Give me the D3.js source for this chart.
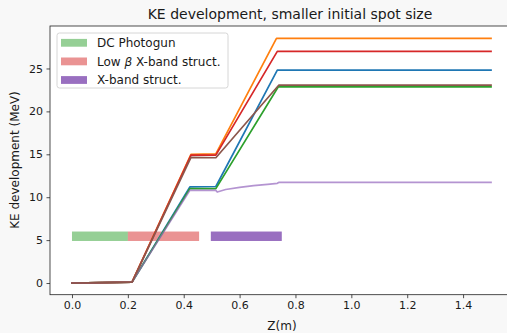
<!DOCTYPE html>
<html>
<head>
<meta charset="utf-8">
<script src="https://cdn.jsdelivr.net/npm/d3@7"></script>
<style>
  html, body { margin: 0; padding: 0; background: #f8f8f8; }
  svg { display: block; font-family: "DejaVu Sans", sans-serif; }
</style>
</head>
<body>
<svg id="chart" width="507" height="333"></svg>
<script>
// Longitudinal position along the beamline (m) and kinetic energy (MeV) per tracked run
const zBlue   = [0, 0.215, 0.422, 0.515, 0.735, 1.5];
const keBlue  = [0, 0.1, 11.2, 11.25, 24.8, 24.8];
const zOrange = [0, 0.215, 0.426, 0.515, 0.732, 1.5];
const keOrange= [0, 0.1, 15.0, 15.05, 28.5, 28.5];
const zGreen  = [0, 0.215, 0.422, 0.515, 0.738, 1.5];
const keGreen = [0, 0.1, 11.0, 11.0, 22.85, 22.85];
const zRed    = [0, 0.215, 0.426, 0.515, 0.735, 1.5];
const keRed   = [0, 0.1, 14.9, 14.9, 27.0, 27.0];
const zPurple = [0, 0.215, 0.422, 0.515, 0.52, 0.55, 0.6, 0.65, 0.7, 0.735, 0.74, 1.5];
const kePurple= [0, 0.1, 10.8, 10.8, 10.6, 10.9, 11.15, 11.35, 11.5, 11.62, 11.72, 11.72];
const zBrown  = [0, 0.215, 0.426, 0.515, 0.74, 1.5];
const keBrown = [0, 0.1, 14.65, 14.6, 23.05, 23.05];

// Accelerating sections: label parts (plain, italic symbol, plain), start z, end z
const sectionNames = [["DC Photogun", "", ""], ["Low ", "\u03b2", " X-band struct."], ["X-band struct.", "", ""]];
const sectionStart = [0.0, 0.2, 0.497];
const sectionEnd   = [0.2, 0.455, 0.751];
const sectionLevel = [4.9, 6.0]; // vertical extent of the section bars (MeV)

const xTicks = [0.0, 0.2, 0.4, 0.6, 0.8, 1.0, 1.2, 1.4];
const yTicks = [0, 5, 10, 15, 20, 25];

const series = [
  { z: zBlue,   ke: keBlue,   color: "#1f77b4", opacity: 1 },
  { z: zOrange, ke: keOrange, color: "#ff7f0e", opacity: 1 },
  { z: zGreen,  ke: keGreen,  color: "#2ca02c", opacity: 1 },
  { z: zRed,    ke: keRed,    color: "#d62728", opacity: 1 },
  { z: zPurple, ke: kePurple, color: "#9467bd", opacity: 0.7 },
  { z: zBrown,  ke: keBrown,  color: "#8c564b", opacity: 1 }
];
const sectionColors  = ["#2ca02c", "#d62728", "#9467bd"];
const sectionOpacity = [0.5, 0.5, 0.95];

const svg = d3.select("#chart");
const pLeft = 50, pTop = 26, pRight = 513, pBottom = 294.7;

const x = d3.scaleLinear().domain([-0.0787, 1.5787]).range([pLeft, pRight]);
const y = d3.scaleLinear().domain([-1.36, 29.95]).range([pBottom, pTop]);

// plot area
svg.append("rect").attr("x", pLeft).attr("y", pTop)
  .attr("width", pRight - pLeft).attr("height", pBottom - pTop).attr("fill", "#ffffff");

const plot = svg.append("g");

// section bars
sectionNames.forEach((n, i) => {
  plot.append("rect")
    .attr("x", x(sectionStart[i])).attr("width", x(sectionEnd[i]) - x(sectionStart[i]))
    .attr("y", y(sectionLevel[1])).attr("height", y(sectionLevel[0]) - y(sectionLevel[1]))
    .attr("fill", sectionColors[i]).attr("fill-opacity", sectionOpacity[i]);
});

// energy curves
const line = d3.line().x(d => x(d[0])).y(d => y(d[1]));
series.forEach(s => {
  plot.append("path")
    .attr("d", line(d3.zip(s.z, s.ke)))
    .attr("fill", "none").attr("stroke", s.color)
    .attr("stroke-opacity", s.opacity)
    .attr("stroke-width", 1.7).attr("stroke-linejoin", "round").attr("stroke-linecap", "square");
});

// axes
const xAxis = d3.axisBottom(x).tickValues(xTicks).tickFormat(d3.format(".1f")).tickSizeOuter(0).tickSize(3.5).tickPadding(3.5);
const yAxis = d3.axisLeft(y).tickValues(yTicks).tickFormat(d3.format("d")).tickSizeOuter(0).tickSize(3.5).tickPadding(3.5);

const gx = svg.append("g").attr("transform", `translate(0,${pBottom})`).call(xAxis);
const gy = svg.append("g").attr("transform", `translate(${pLeft},0)`).call(yAxis);
[gx, gy].forEach(g => {
  g.select(".domain").remove();
  g.selectAll("line").attr("stroke", "#222").attr("stroke-width", 0.8);
  g.selectAll("text").attr("font-size", 11).attr("fill", "#1a1a1a")
    .attr("font-family", "DejaVu Sans, sans-serif");
});

// spines
svg.append("rect").attr("x", pLeft).attr("y", pTop)
  .attr("width", pRight - pLeft).attr("height", pBottom - pTop)
  .attr("fill", "none").attr("stroke", "#222").attr("stroke-width", 0.8);

// titles
svg.append("text").attr("x", 290).attr("y", 19)
  .attr("text-anchor", "middle").attr("font-size", 14).attr("fill", "#1a1a1a")
  .text("KE development, smaller initial spot size");
svg.append("text").attr("x", 282).attr("y", 330)
  .attr("text-anchor", "middle").attr("font-size", 12).attr("fill", "#1a1a1a")
  .text("Z(m)");
svg.append("text").attr("transform", `translate(19,160) rotate(-90)`)
  .attr("text-anchor", "middle").attr("font-size", 12).attr("fill", "#1a1a1a")
  .text("KE development (MeV)");

// legend
const lg = svg.append("g").attr("transform", "translate(57,33)");
lg.append("rect").attr("width", 171).attr("height", 55).attr("rx", 2.5)
  .attr("fill", "#ffffff").attr("fill-opacity", 0.8)
  .attr("stroke", "#cccccc").attr("stroke-width", 0.8);
sectionNames.forEach((n, i) => {
  const ry = 9.7 + i * 18.6;
  lg.append("rect").attr("x", 4).attr("y", ry - 3.8).attr("width", 26).attr("height", 7.8)
    .attr("fill", sectionColors[i]).attr("fill-opacity", sectionOpacity[i]);
  const t = lg.append("text").attr("x", 40).attr("y", ry + 4.3).attr("font-size", 12).attr("fill", "#1a1a1a")
    .attr("xml:space", "preserve").style("white-space", "pre");
  t.append("tspan").text(n[0]);
  if (n[1]) t.append("tspan").attr("font-style", "italic").text(n[1]);
  if (n[2]) t.append("tspan").text(n[2]);
});
</script>
</body>
</html>
